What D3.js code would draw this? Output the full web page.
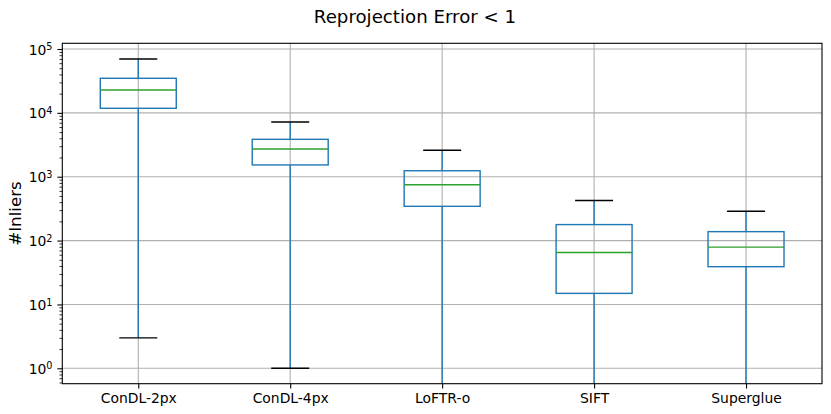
<!DOCTYPE html>
<html>
<head>
<meta charset="utf-8">
<script src="https://cdn.jsdelivr.net/npm/d3@7"></script>
<style>
  html, body { margin: 0; padding: 0; background: #fff; }
  svg { display: block; font-family: "DejaVu Sans", sans-serif; }
</style>
</head>
<body>
<svg id="chart" width="831" height="414"></svg>
<script>
// ---- data ----
const categories = ["ConDL-2px", "ConDL-4px", "LoFTR-o", "SIFT", "Superglue"];
const whiskerLow  = [3,     1,    0,    0,    0];
const q1          = [11800, 1530, 344,  14.9, 39];
const median      = [22800, 2720, 750,  65,   79];
const q3          = [34800, 3850, 1240, 178,  138];
const whiskerHigh = [69700, 7190, 2600, 424,  288];
const yTickExponents = [0, 1, 2, 3, 4, 5];
const titleText = "Reprojection Error < 1";
const yLabelText = "#Inliers";

// ---- layout ----
const W = 831, H = 414;
const plot = { left: 62.3, right: 822, top: 43.3, bottom: 383.7 };
const svg = d3.select("#chart");

const x = d3.scalePoint().domain(categories).range([plot.left, plot.right]).padding(0.5);
const y = d3.scaleLog().domain([Math.pow(10, -0.2412), Math.pow(10, 5.0893)]).range([plot.bottom, plot.top]);
const step = x.step();
const boxW = step * 0.5, capW = boxW * 0.5;
const yc = v => (v <= y.domain()[0] ? plot.bottom : (v >= y.domain()[1] ? plot.top : y(v)));

const majorTicks = yTickExponents.map(e => Math.pow(10, e));
const minorTicks = [];
for (let e = -1; e <= 5; e++) for (let m = 2; m <= 9; m++) {
  const v = m * Math.pow(10, e);
  if (v >= y.domain()[0] && v <= y.domain()[1]) minorTicks.push(v);
}

const grid = svg.append("g");
// horizontal grid
grid.selectAll("line.h").data(majorTicks).join("line")
  .attr("x1", plot.left).attr("x2", plot.right)
  .attr("y1", d => y(d)).attr("y2", d => y(d))
  .attr("stroke", "#b0b0b0").attr("stroke-width", 1.1);
// vertical grid
grid.selectAll("line.v").data(categories).join("line")
  .attr("x1", d => x(d)).attr("x2", d => x(d))
  .attr("y1", plot.top).attr("y2", plot.bottom)
  .attr("stroke", "#b0b0b0").attr("stroke-width", 1.1);

// boxes
const blue = "#1f77b4", green = "#2ca02c";
const rows = categories.map((c, i) => ({ c, lo: whiskerLow[i], q1: q1[i], med: median[i], q3: q3[i], hi: whiskerHigh[i] }));
const bx = svg.append("g").attr("clip-path", "url(#clip)");
svg.append("clipPath").attr("id", "clip").append("rect")
  .attr("x", plot.left).attr("y", plot.top).attr("width", plot.right - plot.left).attr("height", plot.bottom - plot.top);

rows.forEach(r => {
  const cx = x(r.c);
  const g = bx.append("g");
  g.append("rect").attr("x", cx - boxW / 2).attr("y", yc(r.q3))
    .attr("width", boxW).attr("height", yc(r.q1) - yc(r.q3))
    .attr("fill", "none").attr("stroke", blue).attr("stroke-width", 1.4);
  g.append("line").attr("x1", cx).attr("x2", cx).attr("y1", yc(r.q3)).attr("y2", yc(r.hi))
    .attr("stroke", blue).attr("stroke-width", 1.4);
  g.append("line").attr("x1", cx).attr("x2", cx).attr("y1", yc(r.q1)).attr("y2", yc(r.lo))
    .attr("stroke", blue).attr("stroke-width", 1.4);
  g.append("line").attr("x1", cx - boxW / 2).attr("x2", cx + boxW / 2).attr("y1", yc(r.med)).attr("y2", yc(r.med))
    .attr("stroke", green).attr("stroke-width", 1.4);
  [r.hi, r.lo].forEach(v => {
    if (v > y.domain()[0]) {
      g.append("line").attr("x1", cx - capW / 2).attr("x2", cx + capW / 2).attr("y1", yc(v)).attr("y2", yc(v))
        .attr("stroke", "#000").attr("stroke-width", 1.4);
    }
  });
});

// spines
svg.append("rect").attr("x", plot.left).attr("y", plot.top)
  .attr("width", plot.right - plot.left).attr("height", plot.bottom - plot.top)
  .attr("fill", "none").attr("stroke", "#000").attr("stroke-width", 1.1);

// y axis major
const yAxis = svg.append("g").attr("transform", `translate(${plot.left},0)`)
  .call(d3.axisLeft(y).tickValues(majorTicks).tickSize(4.9).tickPadding(4.9).tickFormat(() => ""));
yAxis.select(".domain").remove();
yAxis.selectAll(".tick line").attr("stroke", "#000").attr("stroke-width", 1.1);
yAxis.selectAll(".tick text").each(function (d) {
  const t = d3.select(this).attr("font-size", 13.9).attr("font-family", "DejaVu Sans").attr("fill", "#000").attr("dy", "0.36em");
  t.append("tspan").text("10");
  t.append("tspan").attr("dy", "-0.45em").attr("font-size", 9.7).text(String(Math.round(Math.log10(d))));
});
// y axis minor
const yMinor = svg.append("g").attr("transform", `translate(${plot.left},0)`)
  .call(d3.axisLeft(y).tickValues(minorTicks).tickSize(2.8).tickFormat(() => ""));
yMinor.select(".domain").remove();
yMinor.selectAll(".tick line").attr("stroke", "#000").attr("stroke-width", 0.8);

// x axis
const xAxis = svg.append("g").attr("transform", `translate(0,${plot.bottom})`)
  .call(d3.axisBottom(x).tickSize(4.9).tickPadding(4.9));
xAxis.select(".domain").remove();
xAxis.selectAll(".tick line").attr("stroke", "#000").attr("stroke-width", 1.1);
xAxis.selectAll(".tick text").attr("font-size", 13.9).attr("font-family", "DejaVu Sans").attr("fill", "#000");

// title
svg.append("text").attr("x", 415).attr("y", 23).attr("text-anchor", "middle")
  .attr("font-size", 18.2).attr("fill", "#000").text(titleText);
// y label
svg.append("text").attr("transform", `translate(21,${(plot.top + plot.bottom) / 2}) rotate(-90)`)
  .attr("text-anchor", "middle").attr("font-size", 16.7).attr("fill", "#000").text(yLabelText);
</script>
</body>
</html>
